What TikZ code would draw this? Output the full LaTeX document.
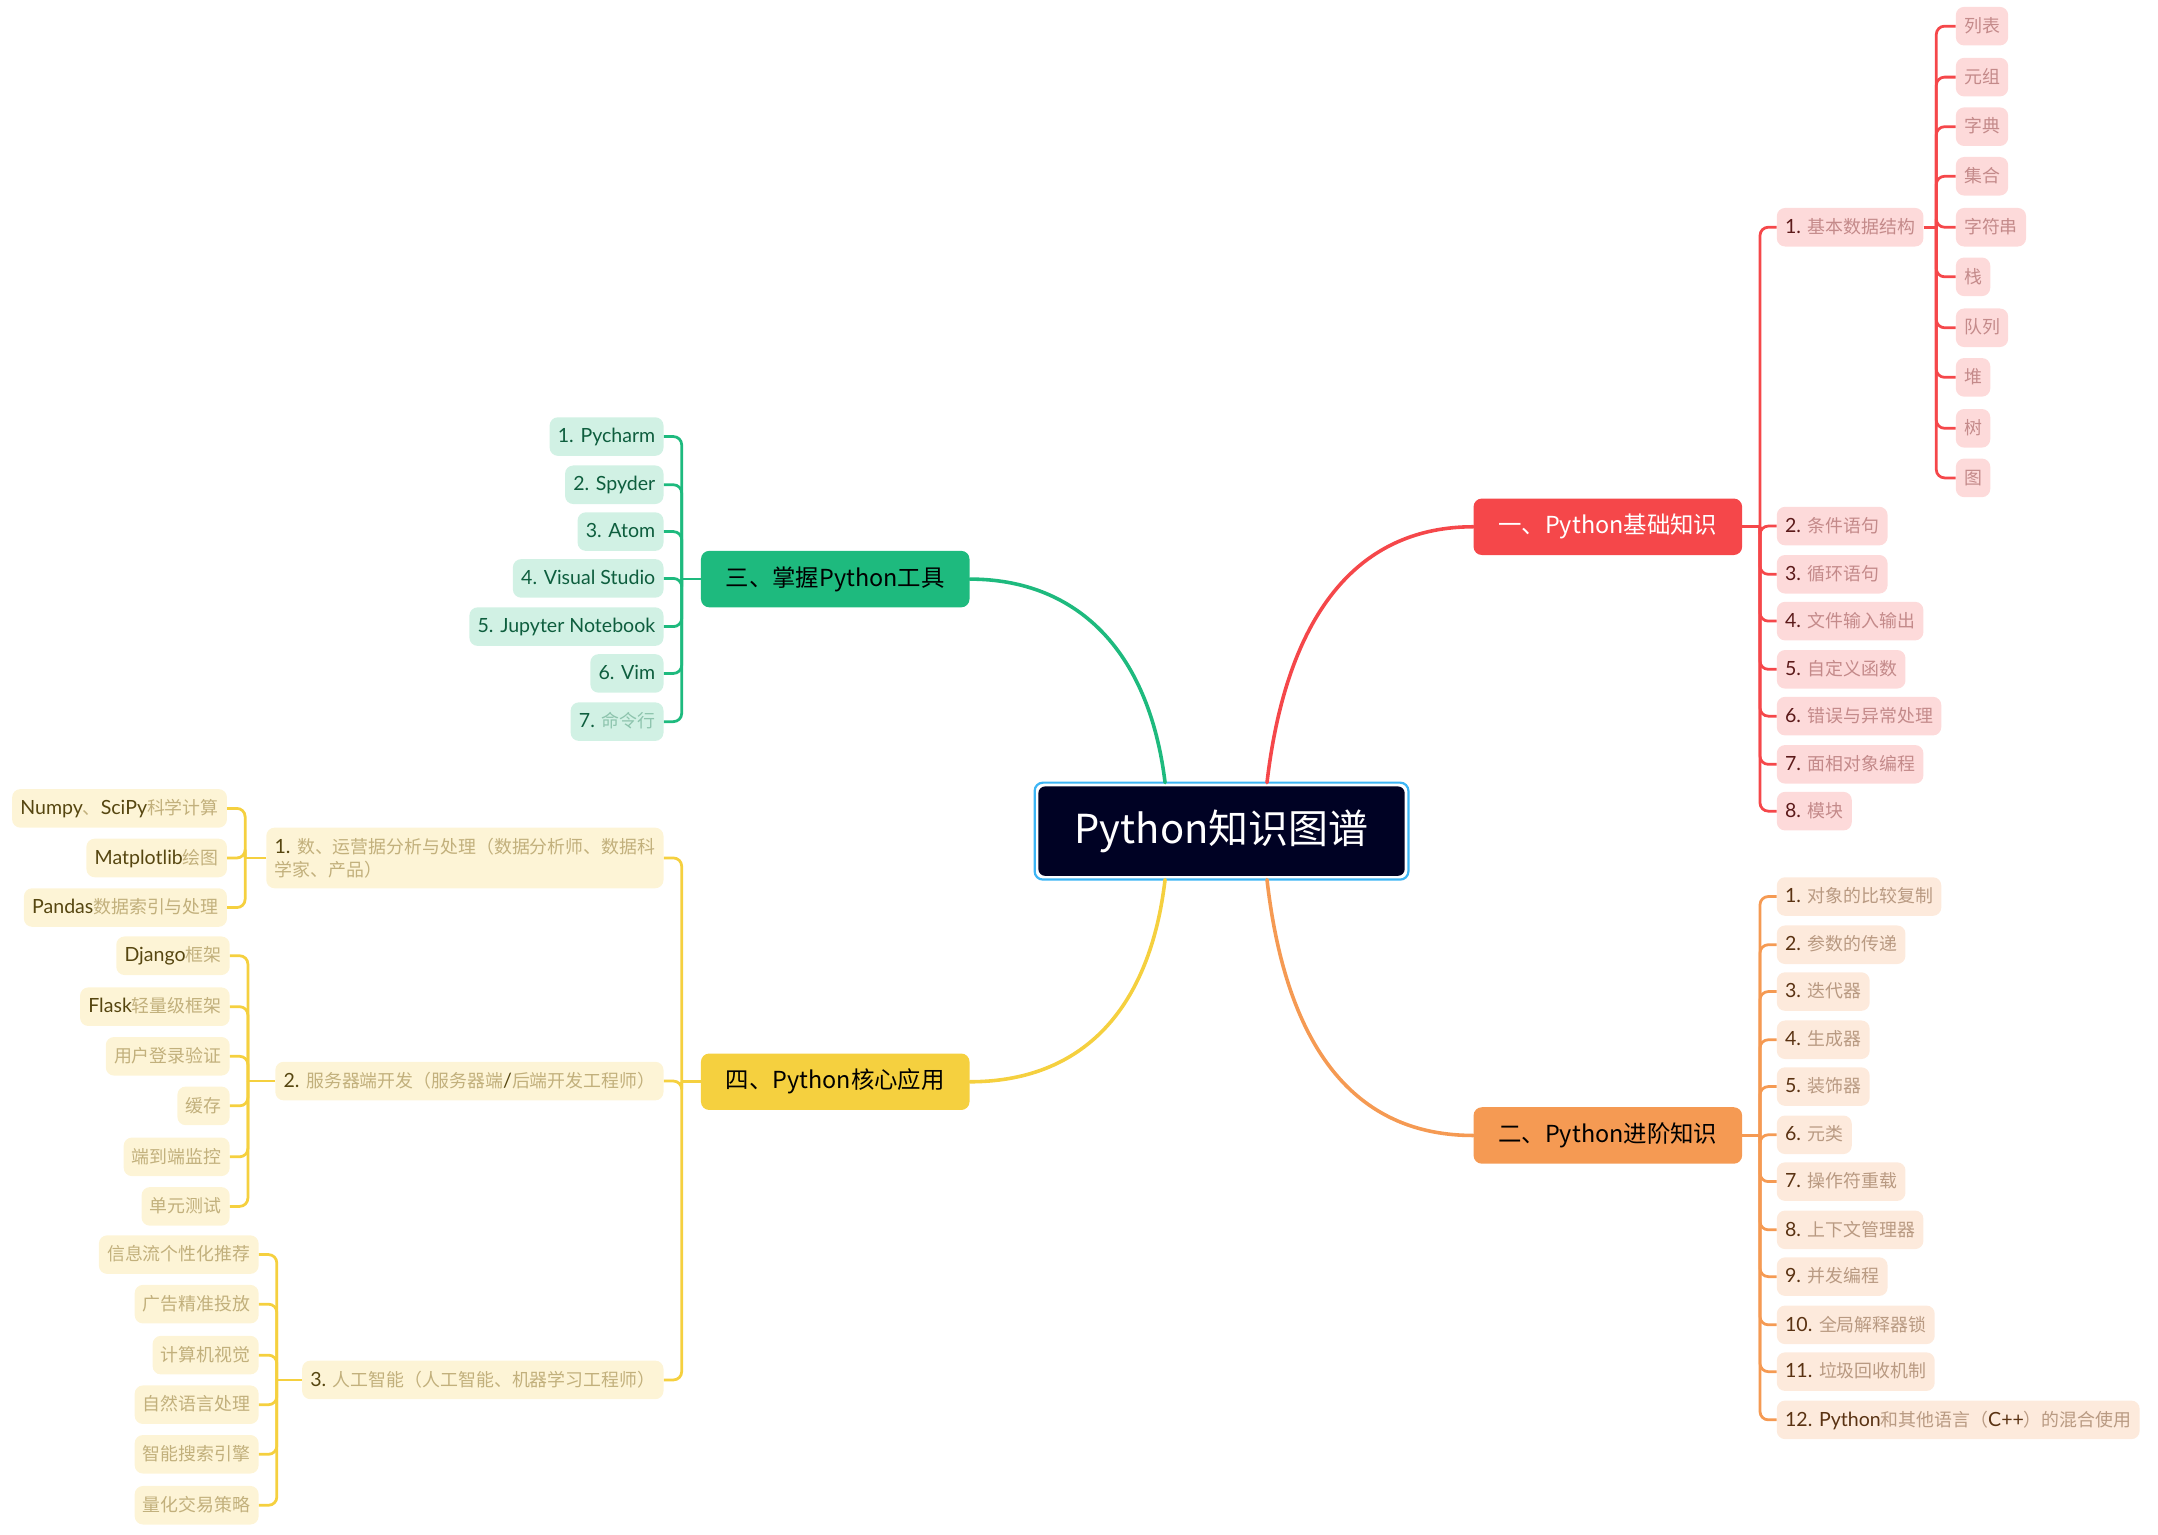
\documentclass[tikz,border=0pt]{standalone}
\usepackage{fontspec}
\setmainfont{Lato}
\newfontfamily\cjk{Noto Sans CJK SC}
\usetikzlibrary{calc}
\definecolor{rootc}{HTML}{000224}
\definecolor{rootb}{HTML}{3DB5F5}
\definecolor{rdC}{HTML}{F5474A}
\definecolor{rdF}{HTML}{FDDADA}
\definecolor{rdD}{HTML}{5C1A1A}
\definecolor{rdL}{HTML}{C48A8A}
\definecolor{orC}{HTML}{F59A53}
\definecolor{orF}{HTML}{FDEADC}
\definecolor{orD}{HTML}{5A3212}
\definecolor{orL}{HTML}{B99A82}
\definecolor{grC}{HTML}{1EBA7E}
\definecolor{grF}{HTML}{D1F1E4}
\definecolor{grD}{HTML}{0E5E3E}
\definecolor{grL}{HTML}{8DC4AD}
\definecolor{ylC}{HTML}{F5D03F}
\definecolor{ylF}{HTML}{FDF4D6}
\definecolor{ylD}{HTML}{564610}
\definecolor{ylL}{HTML}{C2B07C}
\colorlet{lt}{black}
\newcommand\cj[1]{{\cjk\fontsize{13}{17}\selectfont\color{lt}#1}}
\tikzset{
  leaf/.style={rounded corners=6, minimum height=28, inner xsep=6, inner ysep=0,
    text height=11, text depth=2, font=\fontsize{14.2}{17}\selectfont},
  rleaf/.style={leaf, fill=rdF, text=rdD, execute at begin node={\colorlet{lt}{rdL}}},
  oleaf/.style={leaf, fill=orF, text=orD, execute at begin node={\colorlet{lt}{orL}}},
  gleaf/.style={leaf, fill=grF, text=grD, execute at begin node={\colorlet{lt}{grL}}},
  yleaf/.style={leaf, fill=ylF, text=ylD, execute at begin node={\colorlet{lt}{ylL}}},
  lvone/.style={rounded corners=6, minimum width=195, minimum height=41, inner sep=0,
    font=\cjk\fontsize{17}{20}\selectfont},
  rootnode/.style={rounded corners=5, minimum width=266, minimum height=65, inner sep=0,
    fill=rootc, text=white, font=\cjk\fontsize{29}{34}\selectfont},
  mainline/.style={line width=2.6, line cap=round},
  brline/.style={line width=2, rounded corners=6},
}
\begin{document}
\begin{tikzpicture}[x=1pt,y=-1pt]
\useasboundingbox (0,0) rectangle (1567,1114);
% ---------- root ----------
\node[rootnode] (root) at (887,603.5) {Python知识图谱};
\draw[rootb, line width=1.6, rounded corners=6]
  ($(root.north west)+(-2.5,-2.5)$) rectangle ($(root.south east)+(2.5,2.5)$);
% ---------- level one ----------
\node[lvone, fill=rdC, text=white] (nA) at (1167.5,382.5) {一、Python基础知识};
\node[lvone, fill=orC, text=black] (nB) at (1167.5,824.5) {二、Python进阶知识};
\node[lvone, fill=grC, text=black] (nC) at (606.5,420.5) {三、掌握Python工具};
\node[lvone, fill=ylC, text=black] (nD) at (606.5,785.5) {四、Python核心应用};
\draw[mainline, rdC] ($(root.north)+(33,-2.5)$) .. controls (935,440) and (990,382.5) .. (nA.west);
\draw[mainline, grC] ($(root.north)+(-41,-2.5)$) .. controls (834,470) and (780,420.5) .. (nC.east);
\draw[mainline, ylC] ($(root.south)+(-41,2.5)$) .. controls (834,740) and (780,785.5) .. (nD.east);
\draw[mainline, orC] ($(root.south)+(33,2.5)$) .. controls (935,770) and (990,824.5) .. (nB.west);
% ---------- red branch ----------
\node[rleaf, anchor=west] (r1) at (1290,165) {1. \cj{基本数据结构}};
\node[rleaf, anchor=west] (r2) at (1290,382) {2. \cj{条件语句}};
\node[rleaf, anchor=west] (r3) at (1290,417) {3. \cj{循环语句}};
\node[rleaf, anchor=west] (r4) at (1290,451) {4. \cj{文件输入输出}};
\node[rleaf, anchor=west] (r5) at (1290,486) {5. \cj{自定义函数}};
\node[rleaf, anchor=west] (r6) at (1290,520) {6. \cj{错误与异常处理}};
\node[rleaf, anchor=west] (r7) at (1290,555) {7. \cj{面相对象编程}};
\node[rleaf, anchor=west] (r8) at (1290,589) {8. \cj{模块}};
\coordinate (rt) at (1278,382.5);
\draw[brline, rdC] (nA.east) -- (rt);
\foreach \c in {r1,r2,r3,r4,r5,r6,r7,r8} \draw[brline, rdC] (rt) |- (\c.west);
\node[rleaf, anchor=west] (s1) at (1420,19) {\cj{列表}};
\node[rleaf, anchor=west] (s2) at (1420,56) {\cj{元组}};
\node[rleaf, anchor=west] (s3) at (1420,92) {\cj{字典}};
\node[rleaf, anchor=west] (s4) at (1420,128) {\cj{集合}};
\node[rleaf, anchor=west] (s5) at (1420,165) {\cj{字符串}};
\node[rleaf, anchor=west] (s6) at (1420,201) {\cj{栈}};
\node[rleaf, anchor=west] (s7) at (1420,238) {\cj{队列}};
\node[rleaf, anchor=west] (s8) at (1420,274) {\cj{堆}};
\node[rleaf, anchor=west] (s9) at (1420,311) {\cj{树}};
\node[rleaf, anchor=west] (s10) at (1420,347) {\cj{图}};
\coordinate (st) at (1406,165);
\draw[brline, rdC] (r1.east) -- (st);
\foreach \c in {s1,s2,s3,s4,s5,s6,s7,s8,s9,s10} \draw[brline, rdC] (st) |- (\c.west);
% ---------- orange branch ----------
\node[oleaf, anchor=west] (o1) at (1290,651) {1. \cj{对象的比较复制}};
\node[oleaf, anchor=west] (o2) at (1290,686) {2. \cj{参数的传递}};
\node[oleaf, anchor=west] (o3) at (1290,720) {3. \cj{迭代器}};
\node[oleaf, anchor=west] (o4) at (1290,755) {4. \cj{生成器}};
\node[oleaf, anchor=west] (o5) at (1290,789) {5. \cj{装饰器}};
\node[oleaf, anchor=west] (o6) at (1290,824) {6. \cj{元类}};
\node[oleaf, anchor=west] (o7) at (1290,858) {7. \cj{操作符重载}};
\node[oleaf, anchor=west] (o8) at (1290,893) {8. \cj{上下文管理器}};
\node[oleaf, anchor=west] (o9) at (1290,927) {9. \cj{并发编程}};
\node[oleaf, anchor=west] (o10) at (1290,962) {10. \cj{全局解释器锁}};
\node[oleaf, anchor=west] (o11) at (1290,996) {11. \cj{垃圾回收机制}};
\node[oleaf, anchor=west] (o12) at (1290,1031) {12. Python\cj{和其他语言（}C++\cj{）的混合使用}};
\coordinate (ot) at (1278,824.5);
\draw[brline, orC] (nB.east) -- (ot);
\foreach \c in {o1,o2,o3,o4,o5,o6,o7,o8,o9,o10,o11,o12} \draw[brline, orC] (ot) |- (\c.west);
% ---------- green branch ----------
\node[gleaf, anchor=east] (g1) at (482,317) {1. Pycharm};
\node[gleaf, anchor=east] (g2) at (482,352) {2. Spyder};
\node[gleaf, anchor=east] (g3) at (482,386) {3. Atom};
\node[gleaf, anchor=east] (g4) at (482,420) {4. Visual Studio};
\node[gleaf, anchor=east] (g5) at (482,455) {5. Jupyter Notebook};
\node[gleaf, anchor=east] (g6) at (482,489) {6. Vim};
\node[gleaf, anchor=east] (g7) at (482,524) {7. \cj{命令行}};
\coordinate (gt) at (495,420.5);
\draw[brline, grC] (nC.west) -- (gt);
\foreach \c in {g1,g2,g3,g4,g5,g6,g7} \draw[brline, grC] (gt) |- (\c.east);
% ---------- yellow branch ----------
\node[yleaf, anchor=east, text height=, text depth=, minimum height=44, inner ysep=4, align=left,
  font=\fontsize{14.2}{17}\selectfont] (y1) at (482,623) {1. \cj{数、运营据分析与处理（数据分析师、数据科}\\\cj{学家、产品）}};
\node[yleaf, anchor=east] (y2) at (482,785) {2. \cj{服务器端开发（服务器端}/\cj{后端开发工程师）}};
\node[yleaf, anchor=east] (y3) at (482,1002) {3. \cj{人工智能（人工智能、机器学习工程师）}};
\coordinate (yt) at (495,785.5);
\draw[brline, ylC] (nD.west) -- (yt);
\foreach \c in {y1,y2,y3} \draw[brline, ylC] (yt) |- (\c.east);
% sub of y1
\node[yleaf, anchor=east] (ya1) at (165,587) {Numpy\cj{、}SciPy\cj{科学计算}};
\node[yleaf, anchor=east] (ya2) at (165,623) {Matplotlib\cj{绘图}};
\node[yleaf, anchor=east] (ya3) at (165,659) {Pandas\cj{数据索引与处理}};
\coordinate (yat) at (178,623);
\draw[brline, ylC] (y1.west) -- (yat);
\foreach \c in {ya1,ya2,ya3} \draw[brline, ylC] (yat) |- (\c.east);
% sub of y2
\node[yleaf, anchor=east] (yb1) at (167,694) {Django\cj{框架}};
\node[yleaf, anchor=east] (yb2) at (167,731) {Flask\cj{轻量级框架}};
\node[yleaf, anchor=east] (yb3) at (167,767) {\cj{用户登录验证}};
\node[yleaf, anchor=east] (yb4) at (167,803) {\cj{缓存}};
\node[yleaf, anchor=east] (yb5) at (167,840) {\cj{端到端监控}};
\node[yleaf, anchor=east] (yb6) at (167,876) {\cj{单元测试}};
\coordinate (ybt) at (180,785);
\draw[brline, ylC] (y2.west) -- (ybt);
\foreach \c in {yb1,yb2,yb3,yb4,yb5,yb6} \draw[brline, ylC] (ybt) |- (\c.east);
% sub of y3
\node[yleaf, anchor=east] (yc1) at (188,911) {\cj{信息流个性化推荐}};
\node[yleaf, anchor=east] (yc2) at (188,947) {\cj{广告精准投放}};
\node[yleaf, anchor=east] (yc3) at (188,984) {\cj{计算机视觉}};
\node[yleaf, anchor=east] (yc4) at (188,1020) {\cj{自然语言处理}};
\node[yleaf, anchor=east] (yc5) at (188,1056) {\cj{智能搜索引擎}};
\node[yleaf, anchor=east] (yc6) at (188,1093) {\cj{量化交易策略}};
\coordinate (yct) at (201,1002);
\draw[brline, ylC] (y3.west) -- (yct);
\foreach \c in {yc1,yc2,yc3,yc4,yc5,yc6} \draw[brline, ylC] (yct) |- (\c.east);
\end{tikzpicture}
\end{document}
